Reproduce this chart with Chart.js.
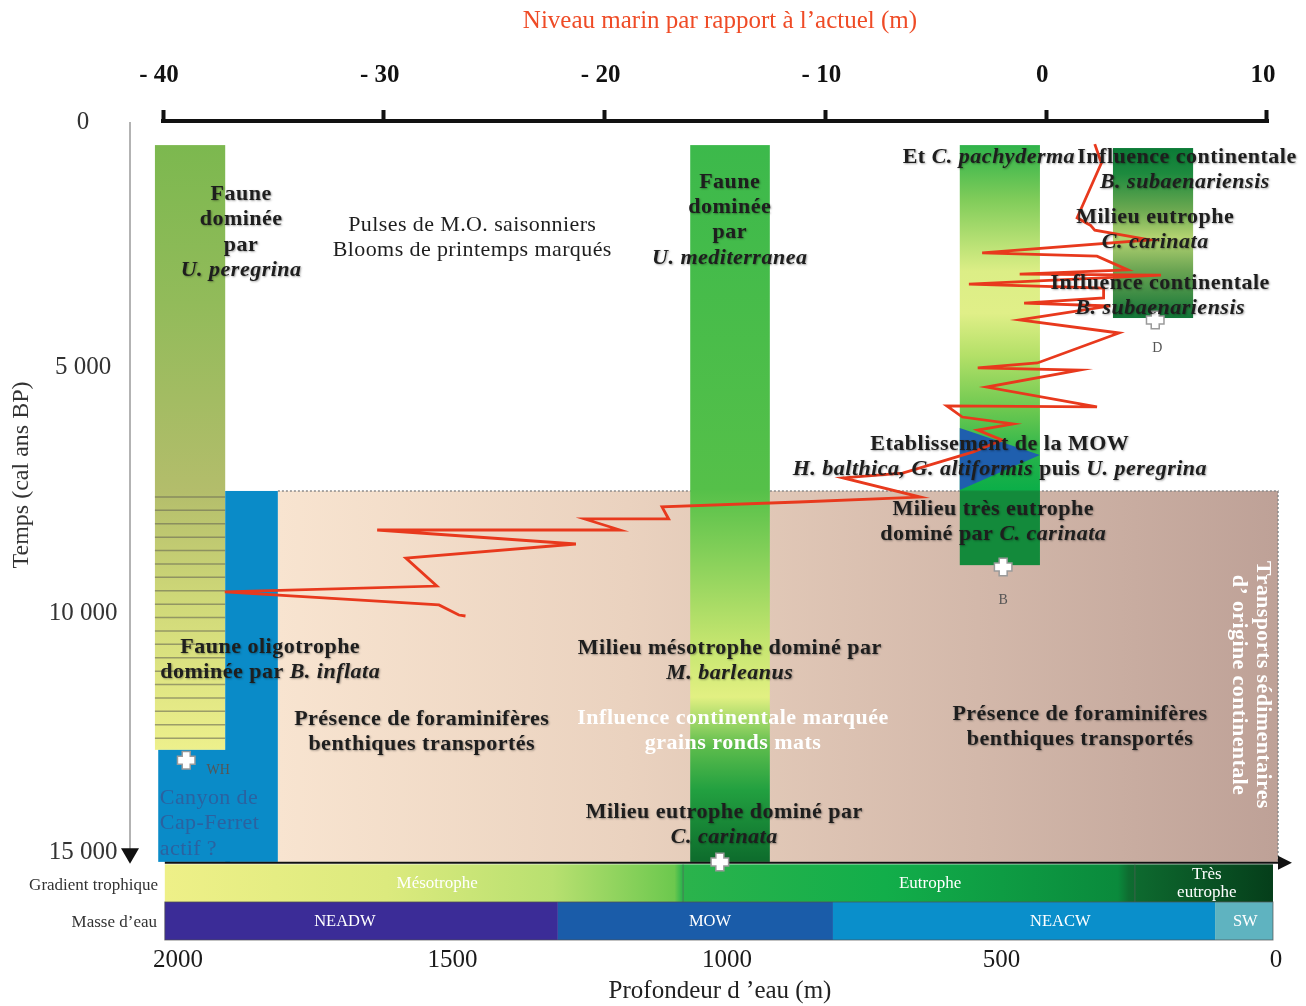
<!DOCTYPE html>
<html>
<head>
<meta charset="utf-8">
<script src="https://cdn.jsdelivr.net/npm/chart.js@4.4.1/dist/chart.umd.min.js"></script>
<style>
  html, body { margin: 0; padding: 0; background: #fff; }
</style>
</head>
<body>
<canvas id="chart" width="1306" height="1006"></canvas>
<script>
const SERIF = "'Liberation Serif', 'Times New Roman', serif";

// axes: sea level on top (m), water depth below (m), age on the left (cal BP)
const seaTicks = [-40, -30, -20, -10, 0, 10];
const depthTicks = [2000, 1500, 1000, 500, 0];
const ageTicks = [0, 5000, 10000, 15000];

// relative sea level curve, read top to bottom
const seaLevel = [2.2, 2.5, 1.4, 2.0, 2.2, 4.7, -2.9, 2.3, 3.7, -1.2, 5.2, -3.5, 2.6, 2.6, -1.0, 2.9,
  -1.2, 3.3, -0.4, -3.1, 1.5, -2.7, 2.3, -4.5, -3.8, -1.5, -3.1, -2.0, -3.3, -6.5, -9.2, -5.7,
  -11.2, -17.4, -17.1, -20.9, -19.3, -30.3, -21.3, -29.0, -27.6, -37.2, -27.5, -26.6, -26.3];
const seaLevelAge = [450, 835, 1950, 2100, 2200, 2400, 2665, 2730, 3010, 3095, 3115, 3300, 3380, 3580, 3685, 3745,
  4030, 4295, 4905, 5005, 5050, 5395, 5800, 5780, 6005, 6145, 6270, 6475, 6715, 7145, 7245, 7635,
  7735, 7835, 8080, 8080, 8305, 8305, 8590, 8875, 9445, 9565, 9830, 10035, 10055];

// cores
const coreNames = ["WH", "D", "B", ""];
const coreDepth = [1985, 220, 497, 1013];
const coreAge = [12990, 4030, 9060, 15060];

// faunal columns: depth range x age range
const columnIds = ["peregrina", "canyonLow", "canyon", "transport", "mediterranea", "pachyderma", "subaenariensis"];
const columnDepthFrom = [2042, 2036, 1914, 1818, 1067, 576, 297];
const columnDepthTo = [1914, 1905, 1818, -3.6, 922, 430, 151];
const columnAgeFrom = [470, 12780, 7510, 7510, 470, 470, 530];
const columnAgeTo = [12780, 15060, 15060, 15060, 15060, 9020, 3990];

// MOW arrival wedge
const wedgeDepth = [576, 430, 576];
const wedgeAge = [6230, 6780, 7490];

// trophic gradient and water masses along depth
const trophicNames = ["Mésotrophe", "Eutrophe", "Très|eutrophe"];
const trophicFrom = [2024, 1080, 257];
const trophicTo = [1080, 257, 5.5];
const trophicLabelDepth = [1528, 630, 126];
const waterNames = ["NEADW", "MOW", "NEACW", "SW"];
const waterFrom = [2024, 1308, 807, 111];
const waterTo = [1308, 807, 111, 5.5];
const waterLabelDepth = [1696, 1031, 393, 56];

const columnStyle = {
  peregrina: { dir: "v", stops: [[0, "#7cb84f"], [0.26, "#92bb5a"], [0.57, "#b3bd6b"], [0.75, "#cfd878"], [1, "#edf08c"]] },
  canyonLow: { dir: "v", stops: [[0, "#0a8bc8"], [1, "#0a8bc8"]] },
  canyon: { dir: "v", stops: [[0, "#0a8bc8"], [1, "#0a8bc8"]] },
  transport: { dir: "h", stops: [[0, "#f8e4d0"], [0.35, "#ead2bf"], [0.7, "#d3b8aa"], [1, "#bea197"]] },
  mediterranea: { dir: "v", stops: [[0, "#3cb94b"], [0.48, "#55c049"], [0.69, "#c2e46e"], [0.77, "#e2f082"], [0.84, "#5cbc4c"], [0.9, "#22a040"], [1, "#0d6b2c"]] },
  pachyderma: { dir: "v", stops: [[0, "#2fb34a"], [0.13, "#80cc5a"], [0.3, "#dcee86"], [0.4, "#e0ef88"], [0.5, "#b4e068"], [0.63, "#6cc850"], [0.75, "#22b24a"], [0.82, "#0cae48"], [0.825, "#138a3b"], [1, "#138a3b"]] },
  subaenariensis: { dir: "v", stops: [[0, "#0b7a36"], [0.15, "#1d8a3e"], [0.36, "#6aa850"], [0.53, "#b5d472"], [0.72, "#6aa452"], [1, "#127538"]] },
};
const waterColors = ["#3b2c97", "#1a5ca9", "#0a8fcb", "#5fb3c0"];

// text notes placed in depth / age units, *...* is italic
const notes = [
  { d: 1885, t: 1466, lines: ["Faune", "dominée", "par", "*U. peregrina*"] },
  { d: 1464, t: 2096, lines: ["Pulses de M.O. saisonniers", "Blooms de printemps marqués"], weight: "normal" },
  { d: 995, t: 1221, lines: ["Faune", "dominée", "par", "*U. mediterranea*"] },
  { d: 366, t: 712, lines: ["Et *C. pachyderma*"], align: "right" },
  { d: 362, t: 712, lines: ["Influence continentale"], align: "left" },
  { d: 166, t: 1221, lines: ["*B. subaenariensis*"] },
  { d: 220, t: 1934, lines: ["Milieu eutrophe", "*C. carinata*"] },
  { d: 211, t: 3277, lines: ["Influence continentale", "*B. subaenariensis*"] },
  { d: 503, t: 6554, lines: ["Etablissement de la MOW", "*H. balthica, G. altiformis* puis *U. peregrina*"] },
  { d: 515, t: 7877, lines: ["Milieu très eutrophe", "dominé par *C. carinata*"] },
  { d: 1832, t: 10686, lines: ["Faune oligotrophe", "dominée par *B. inflata*"] },
  { d: 995, t: 10706, lines: ["Milieu mésotrophe dominé par", "*M. barleanus*"] },
  { d: 1556, t: 12151, lines: ["Présence de foraminifères", "benthiques transportés"] },
  { d: 357, t: 12050, lines: ["Présence de foraminifères", "benthiques transportés"] },
  { d: 989, t: 12131, lines: ["Influence continentale marquée", "grains ronds mats"], color: "#ffffff" },
  { d: 1005, t: 14044, lines: ["Milieu eutrophe dominé par", "*C. carinata*"] },
  { d: 2033, t: 13759, lines: ["Canyon de", "Cap-Ferret", "actif ?"], align: "left", weight: "normal", color: "#2b62a0" },
];

function drawRich(ctx, text, x, y, weight, size, align) {
  const parts = text.split("*");
  const fonts = parts.map((p, i) => `${i % 2 ? "italic " : ""}${weight} ${size}px ${SERIF}`);
  let total = 0;
  const widths = parts.map((p, i) => { ctx.font = fonts[i]; const w = ctx.measureText(p).width; total += w; return w; });
  let cx = align === "left" ? x : align === "right" ? x - total : x - total / 2;
  ctx.textAlign = "left";
  ctx.textBaseline = "middle";
  parts.forEach((p, i) => { ctx.font = fonts[i]; ctx.fillText(p, cx, y); cx += widths[i]; });
}

// columns, bands and the MOW wedge behind the curve
const backdrop = {
  id: "backdrop",
  beforeDatasetsDraw(chart) {
    const { ctx, scales: { x2, y } } = chart;
    const px = d => x2.getPixelForValue(d);
    const py = t => y.getPixelForValue(t);
    ctx.save();

    columnIds.forEach((id, i) => {
      const x0 = px(columnDepthFrom[i]), x1 = px(columnDepthTo[i]);
      const y0 = py(columnAgeFrom[i]), y1 = py(columnAgeTo[i]);
      const st = columnStyle[id];
      const g = st.dir === "h" ? ctx.createLinearGradient(x0, 0, x1, 0) : ctx.createLinearGradient(0, y0, 0, y1);
      st.stops.forEach(([o, c]) => g.addColorStop(o, c));
      ctx.fillStyle = g;
      ctx.fillRect(x0, y0, x1 - x0, y1 - y0);

      if (id === "peregrina") {
        // hatched lower part
        ctx.strokeStyle = "rgba(105,105,85,0.6)";
        ctx.lineWidth = 1.5;
        for (let yy = py(7510) + 6; yy < y1 - 4; yy += 13.4) {
          ctx.beginPath(); ctx.moveTo(x0, yy); ctx.lineTo(x1, yy); ctx.stroke();
        }
      }
      if (id === "transport") {
        ctx.strokeStyle = "#8a8a8a";
        ctx.lineWidth = 1.5;
        ctx.setLineDash([2, 2]);
        ctx.beginPath();
        ctx.moveTo(x0, y0); ctx.lineTo(x1, y0); ctx.lineTo(x1, y1);
        ctx.stroke();
        ctx.setLineDash([]);
      }
    });

    // MOW wedge
    ctx.fillStyle = "#1f5fae";
    ctx.beginPath();
    wedgeDepth.forEach((d, i) => {
      const X = px(d), Y = py(wedgeAge[i]);
      i ? ctx.lineTo(X, Y) : ctx.moveTo(X, Y);
    });
    ctx.closePath();
    ctx.fill();

    // trophic gradient row
    const ty0 = py(15110), ty1 = py(15876), wy1 = py(16650);
    const gx0 = px(trophicFrom[0]), gx1 = px(trophicTo[trophicTo.length - 1]);
    const tg = ctx.createLinearGradient(gx0, 0, gx1, 0);
    [[0, "#eef088"], [0.2, "#dcea7e"], [0.35, "#b8e070"], [0.46, "#6cc84e"], [0.467, "#2bb34c"],
     [0.65, "#12ae4a"], [0.86, "#0a8a3c"], [0.87, "#0e6c30"], [1, "#053e1a"]].forEach(([o, c]) => tg.addColorStop(o, c));
    ctx.fillStyle = tg;
    ctx.fillRect(gx0, ty0, gx1 - gx0, ty1 - ty0);
    ctx.strokeStyle = "rgba(90,90,90,0.6)";
    ctx.lineWidth = 1;
    trophicFrom.slice(1).forEach(d => {
      ctx.beginPath(); ctx.moveTo(px(d), ty0); ctx.lineTo(px(d), ty1); ctx.stroke();
    });

    // water masses row
    waterNames.forEach((n, i) => {
      ctx.fillStyle = waterColors[i];
      ctx.fillRect(px(waterFrom[i]), ty1, px(waterTo[i]) - px(waterFrom[i]), wy1 - ty1);
    });
    ctx.strokeStyle = "rgba(80,80,80,0.7)";
    ctx.strokeRect(gx0, ty1, gx1 - gx0, wy1 - ty1);

    // row labels
    ctx.fillStyle = "#ffffff";
    ctx.textAlign = "center";
    ctx.textBaseline = "middle";
    ctx.font = `17px ${SERIF}`;
    trophicNames.forEach((n, i) => {
      const parts = n.split("|");
      const cy = (ty0 + ty1) / 2;
      parts.forEach((p, k) => ctx.fillText(p, px(trophicLabelDepth[i]), cy + (k - (parts.length - 1) / 2) * 18));
    });
    ctx.font = `16.5px ${SERIF}`;
    waterNames.forEach((n, i) => ctx.fillText(n, px(waterLabelDepth[i]), (ty1 + wy1) / 2 + 1));

    ctx.fillStyle = "#333";
    ctx.textAlign = "right";
    ctx.font = `17px ${SERIF}`;
    ctx.fillText("Gradient trophique", chart.chartArea.left - 5, (ty0 + ty1) / 2 + 2);
    ctx.fillText("Masse d’eau", chart.chartArea.left - 6, (ty1 + wy1) / 2 + 2);

    // black base line with arrow
    const by = py(15080);
    ctx.strokeStyle = "#111";
    ctx.lineWidth = 2;
    ctx.beginPath(); ctx.moveTo(gx0, by); ctx.lineTo(px(-7), by); ctx.stroke();
    ctx.fillStyle = "#111";
    ctx.beginPath();
    ctx.moveTo(px(-3.6), by - 7); ctx.lineTo(px(-29), by); ctx.lineTo(px(-3.6), by + 7);
    ctx.closePath(); ctx.fill();

    ctx.restore();
  },

  afterDatasetsDraw(chart) {
    const { ctx, chartArea, scales: { x, x2, y } } = chart;
    const px = d => x2.getPixelForValue(d);
    const py = t => y.getPixelForValue(t);
    ctx.save();

    // notes
    notes.forEach(n => {
      const weight = n.weight || "bold";
      ctx.fillStyle = n.color || "#1e1e1e";
      if (!n.color && weight === "bold") {
        ctx.shadowColor = "rgba(0,0,0,0.35)";
        ctx.shadowBlur = 2;
        ctx.shadowOffsetX = 1;
        ctx.shadowOffsetY = 1;
      }
      ctx.letterSpacing = weight === "bold" ? "0.5px" : "0.4px";
      n.lines.forEach((l, k) => drawRich(ctx, l, px(n.d), py(n.t) + k * 25.4, weight, 22, n.align || "center"));
      ctx.letterSpacing = "0px";
      ctx.shadowColor = "transparent";
      ctx.shadowBlur = 0; ctx.shadowOffsetX = 0; ctx.shadowOffsetY = 0;
    });

    // vertical side note
    ctx.save();
    ctx.translate(px(47), py(11459));
    ctx.rotate(Math.PI / 2);
    ctx.fillStyle = "#ffffff";
    ctx.font = `bold 22px ${SERIF}`;
    ctx.letterSpacing = "0.4px";
    ctx.textAlign = "center";
    ctx.textBaseline = "middle";
    ctx.fillText("Transports sédimentaires", 0, -12);
    ctx.fillText("d’ origine continentale", 0, 12);
    ctx.letterSpacing = "0px";
    ctx.restore();

    // core labels
    const coreOffset = [[32, 10], [2, 28], [0, 33], [0, 0]];
    ctx.fillStyle = "#555";
    ctx.font = `14px ${SERIF}`;
    ctx.textAlign = "center";
    coreNames.forEach((n, i) => {
      if (n) ctx.fillText(n, px(coreDepth[i]) + coreOffset[i][0], py(coreAge[i]) + coreOffset[i][1]);
    });

    // top axis bar
    ctx.strokeStyle = "#111";
    ctx.lineWidth = 4;
    ctx.beginPath();
    ctx.moveTo(x.getPixelForValue(-40) - 2, chartArea.top - 1);
    ctx.lineTo(x.getPixelForValue(10) + 2, chartArea.top - 1);
    ctx.stroke();

    // age axis: thin line, arrow, tick labels, title
    const ax = chartArea.left - 33;
    ctx.strokeStyle = "#9a9a9a";
    ctx.lineWidth = 1.5;
    ctx.beginPath(); ctx.moveTo(ax, py(0)); ctx.lineTo(ax, py(14800)); ctx.stroke();
    ctx.fillStyle = "#111";
    ctx.beginPath();
    ctx.moveTo(ax - 9, py(14780)); ctx.lineTo(ax + 9, py(14780)); ctx.lineTo(ax, py(15100));
    ctx.closePath(); ctx.fill();

    ctx.fillStyle = "#333";
    ctx.font = `25px ${SERIF}`;
    ctx.textAlign = "center";
    ctx.textBaseline = "middle";
    y.ticks.forEach(tk => {
      const label = tk.value.toLocaleString("fr-FR").replace(/\s/g, " ");
      ctx.fillText(label, chartArea.left - 80, py(tk.value) + (tk.value === 15000 ? -6 : 0));
    });
    ctx.font = `24px ${SERIF}`;
    ctx.save();
    ctx.translate(22, 475);
    ctx.rotate(-Math.PI / 2);
    ctx.fillText("Temps (cal ans BP)", 0, 0);
    ctx.restore();

    ctx.restore();
  },
};

const chart = new Chart(document.getElementById("chart"), {
  type: "scatter",
  data: {
    datasets: [
      {
        label: "cores",
        data: coreDepth.map((d, i) => ({ x: d, y: coreAge[i] })),
        xAxisID: "x2", yAxisID: "y",
        pointStyle: "cross", pointRadius: 8, pointBorderWidth: 6.5,
        pointBorderColor: "#ffffff", pointBackgroundColor: "#ffffff",
        clip: false,
      },
      {
        label: "cores outline",
        data: coreDepth.map((d, i) => ({ x: d, y: coreAge[i] })),
        xAxisID: "x2", yAxisID: "y",
        pointStyle: "cross", pointRadius: 9.5, pointBorderWidth: 9.5,
        pointBorderColor: "#9a9a9a", pointBackgroundColor: "#9a9a9a",
        clip: false,
      },
      {
        label: "Niveau marin",
        data: seaLevel.map((s, i) => ({ x: s, y: seaLevelAge[i] })),
        xAxisID: "x", yAxisID: "y",
        showLine: true, pointRadius: 0,
        borderColor: "#e8391d", borderWidth: 2.8,
        tension: 0, clip: false,
      },
    ],
  },
  options: {
    responsive: false,
    animation: false,
    events: [],
    layout: { padding: { left: 0, right: 29, top: 0, bottom: 0 } },
    plugins: { legend: { display: false }, tooltip: { enabled: false } },
    scales: {
      x: {
        type: "linear", position: "top", min: -40, max: 10.453,
        afterBuildTicks: s => { s.ticks = seaTicks.map(v => ({ value: v })); },
        afterFit: s => { s.height = 122; },
        grid: { display: true, drawOnChartArea: false, drawTicks: true, tickLength: 12, tickWidth: 4, tickColor: "#111" },
        border: { display: false },
        ticks: { color: "#111", padding: 19, labelOffset: -4, font: { family: SERIF, size: 25, weight: "bold" }, callback: v => v < 0 ? "- " + Math.abs(v) : String(v) },
        title: { display: true, text: "Niveau marin par rapport à l’actuel (m)", color: "#ef4b26", font: { family: SERIF, size: 25 }, padding: { top: 6, bottom: 0 } },
      },
      x2: {
        type: "linear", position: "bottom", reverse: true, min: -1.8, max: 2027.3,
        afterBuildTicks: s => { s.ticks = depthTicks.map(v => ({ value: v })); },
        afterFit: s => { s.height = 66; },
        grid: { display: false, drawTicks: false },
        border: { display: false },
        ticks: { color: "#1a1a1a", padding: 5, font: { family: SERIF, size: 25 }, callback: v => String(v) },
        title: { display: true, text: "Profondeur d ’eau (m)", color: "#222", font: { family: SERIF, size: 25 }, padding: { top: 0, bottom: 0 } },
      },
      y: {
        type: "linear", position: "left", reverse: true, min: 0, max: 16650,
        afterBuildTicks: s => { s.ticks = ageTicks.map(v => ({ value: v })); },
        afterFit: s => { s.width = 163; },
        grid: { display: false, drawTicks: false },
        border: { display: false },
        ticks: { display: false },
      },
    },
  },
  plugins: [backdrop],
});
</script>
</body>
</html>
